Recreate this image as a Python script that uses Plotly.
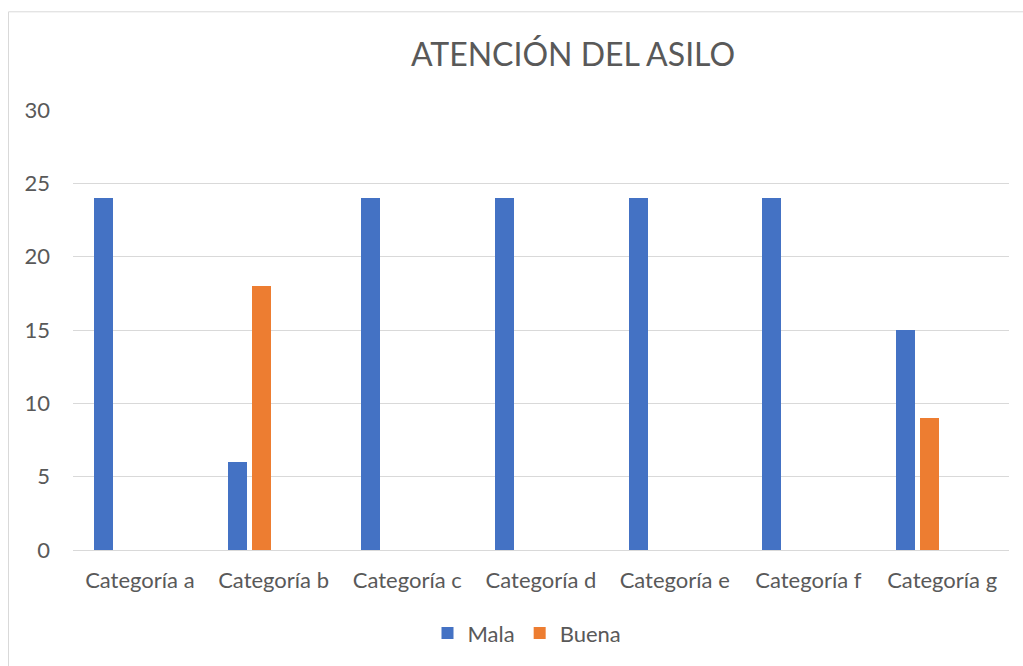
import plotly.graph_objects as go

categories = ["Categoría a", "Categoría b", "Categoría c", "Categoría d",
              "Categoría e", "Categoría f", "Categoría g"]
mala = [24, 6, 24, 24, 24, 24, 15]
buena = [0, 18, 0, 0, 0, 0, 9]
title_text = "ATENCIÓN DEL ASILO"

W, H = 1023, 666
L, R, T, B = 73, 14, 110, 116
pw = W - L - R
ph = H - T - B

fig = go.Figure()
fig.add_trace(go.Bar(name="Mala", x=categories, y=mala, width=0.142, offset=-0.344,
                     marker=dict(color="#4472C4", line=dict(width=0))))
fig.add_trace(go.Bar(name="Buena", x=categories, y=buena, width=0.142, offset=-0.164,
                     marker=dict(color="#ED7D31", line=dict(width=0))))

font_family = "Lato, Open Sans, sans-serif"
fig.update_layout(
    width=W, height=H,
    margin=dict(l=L, r=R, t=T, b=B, pad=0),
    paper_bgcolor="white", plot_bgcolor="white",
    font=dict(family=font_family, color="#595959", size=22),
    title=dict(text=title_text, x=573 / W, xanchor="center",
               y=1 - 55 / H, yanchor="middle",
               font=dict(size=32, color="#595959", family=font_family)),
    showlegend=True,
    legend=dict(orientation="h", x=(527 - L) / pw, xanchor="center",
                y=(549.7 - 633) / ph, yanchor="middle",
                font=dict(size=22, color="#595959"), itemwidth=30),
    bargap=0,
    xaxis=dict(showgrid=False, showline=False, ticks="", ticklabelstandoff=15,
               tickfont=dict(size=22, color="#595959")),
    yaxis=dict(range=[0, 30], dtick=5, showgrid=True, gridcolor="#d9d9d9", gridwidth=1,
               zeroline=True, zerolinecolor="#d9d9d9", zerolinewidth=1, showline=False,
               ticks="", ticklabelstandoff=22, tickfont=dict(size=22, color="#595959")),
    shapes=[dict(type="rect", xref="paper", yref="paper",
                 x0=(8.5 - L) / pw, x1=1.2, y0=(549.7 - 11.5) / ph, y1=-0.6,
                 line=dict(color="#d9d9d9", width=1), fillcolor="rgba(0,0,0,0)", layer="below")],
)

fig.write_html("out.html")
